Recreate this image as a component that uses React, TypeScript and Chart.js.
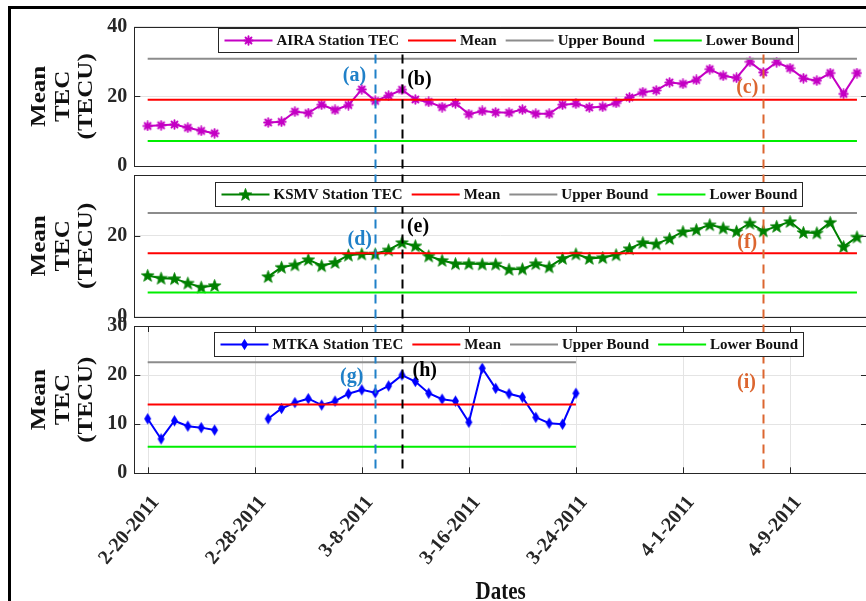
import React, { useEffect, useRef } from 'react';
import { Chart, registerables } from 'chart.js';

Chart.register(...registerables);

// ---------------- data ----------------
// x values are days since 2-20-2011
const dateTickDays = [0, 8, 16, 24, 32, 40, 48];
const dateTickLabels = ['2-20-2011', '2-28-2011', '3-8-2011', '3-16-2011', '3-24-2011', '4-1-2011', '4-9-2011'];

const stationNames = ['AIRA Station TEC', 'KSMV Station TEC', 'MTKA Station TEC'];

// daily mean TEC (TECU), index = day since 2-20-2011, null = no data
const airaTEC = [11.5, 11.7, 11.9, 11.0, 10.1, 9.4, null, null, null,
  12.5, 12.7, 15.6, 15.2, 17.6, 16.1, 17.5, 22.0, 18.7, 20.2, 21.9, 19.1, 18.4, 16.9, 18.0, 14.9, 15.8, 15.4, 15.3,
  16.2, 15.0, 15.0, 17.6, 17.9, 16.8, 17.0, 18.1, 19.7, 21.2, 21.7, 24.0, 23.6, 24.7, 27.8, 25.9, 25.3, 29.9,
  26.9, 29.8, 28.1, 25.2, 24.5, 26.7, 20.7, 26.7];
const ksmvTEC = [10.2, 9.5, 9.4, 8.3, 7.3, 7.7, null, null, null,
  9.9, 12.2, 12.8, 14.1, 12.6, 13.4, 15.2, 15.5, 15.5, 16.5, 18.3, 17.5, 15.0, 13.9, 13.1, 13.1, 13.0, 13.0, 11.7,
  11.8, 13.1, 12.3, 14.4, 15.5, 14.4, 14.6, 15.3, 16.8, 18.3, 18.0, 19.3, 21.0, 21.5, 22.7, 21.9, 21.1, 23.1,
  21.2, 22.3, 23.5, 20.8, 20.7, 23.3, 17.3, 19.7];
const mtkaTEC = [11.1, 7.0, 10.7, 9.6, 9.3, 8.8, null, null, null,
  11.1, 13.2, 14.4, 15.2, 13.9, 14.7, 16.2, 17.0, 16.4, 17.8, 20.0, 18.7, 16.3, 15.1, 14.7, 10.4, 21.4, 17.3,
  16.2, 15.5, 11.4, 10.2, 10.0, 16.3];

const meanTEC = [19.0, 15.7, 14.0];
const upperBound = [30.8, 25.6, 22.6];
const lowerBound = [7.2, 6.0, 5.4];

const yTicksAIRA = [0, 20, 40];
const yTicksKSMV = [0, 20];
const yTicksMTKA = [0, 10, 20, 30];
const yMax = [40, 35, 30];

// event days: 3-9-2011, 3-11-2011, 4-7-2011
const eventDays = [17, 19, 46];
const eventLetters = [
  ['(a)', '(b)', '(c)'],
  ['(d)', '(e)', '(f)'],
  ['(g)', '(h)', '(i)'],
];

const yTitleLines = ['Mean', 'TEC', '(TECU)'];
const xTitle = 'Dates';

// ---------------- styles ----------------
const FONT = '"Liberation Serif", "Times New Roman", serif';
const INK = '#262626';
const stationColors = ['#c400c4', '#008000', '#0000ff'];
const eventColors = ['#1f80c8', '#000000', '#dc6630'];
const MEAN_COLOR = '#ff0000';
const UPPER_COLOR = '#8c8c8c';
const LOWER_COLOR = '#00ee00';
const GRID = '#e4e4e4';

const CANVAS_W = 880;
const CANVAS_H = 601;
const AXIS_LEFT = 134.3;
const PLOT_RIGHT = 867;
const PLOT_TOP = 26.7;
const PLOT_BOTTOM = 473.3;
const panelHeights = [139.3, 141.7, 147.3];
const gapHeights = [9, 9.3];
const legendTopOffsets = [1.6, 6.5, 5.7];
const legendCenterOffset = 7.5;
// label anchors in (day, value) of each panel
const eventLabelDays = [
  [15.45, 20.3, 44.8],
  [15.85, 20.2, 44.8],
  [15.25, 20.7, 44.75],
];
const eventLabelValues = [
  [25.9, 24.8, 22.5],
  [19.0, 22.2, 18.3],
  [19.6, 20.8, 18.4],
];

function makeAsterisk(color: string) {
  const c = document.createElement('canvas');
  c.width = 11; c.height = 11;
  const g = c.getContext('2d')!;
  g.strokeStyle = color; g.lineWidth = 1.9; g.lineCap = 'round';
  const r = 4.2, cx = 5.5, cy = 5.5;
  g.beginPath();
  for (let k = 0; k < 4; k++) {
    const a = (k * Math.PI) / 4 + Math.PI / 2;
    g.moveTo(cx - r * Math.cos(a), cy - r * Math.sin(a));
    g.lineTo(cx + r * Math.cos(a), cy + r * Math.sin(a));
  }
  g.stroke();
  return c;
}

function makePentagram(color: string) {
  const c = document.createElement('canvas');
  c.width = 15; c.height = 15;
  const g = c.getContext('2d')!;
  const R = 6.6, r = 2.7, cx = 7.5, cy = 8;
  g.beginPath();
  for (let k = 0; k < 10; k++) {
    const a = -Math.PI / 2 + (k * Math.PI) / 5;
    const rr = k % 2 ? r : R;
    const x = cx + rr * Math.cos(a), y = cy + rr * Math.sin(a);
    if (k) g.lineTo(x, y); else g.moveTo(x, y);
  }
  g.closePath();
  g.fillStyle = color; g.fill();
  g.strokeStyle = color; g.lineWidth = 0.8; g.stroke();
  return c;
}

function makeDiamond(color: string) {
  const c = document.createElement('canvas');
  c.width = 9; c.height = 13;
  const g = c.getContext('2d')!;
  g.beginPath();
  g.moveTo(4.5, 0.8); g.lineTo(8, 6.5); g.lineTo(4.5, 12.2); g.lineTo(1, 6.5);
  g.closePath();
  g.fillStyle = color; g.fill();
  return c;
}

const panelIds = ['yA', 'yK', 'yM'];

export default function App() {
  const ref = useRef<HTMLCanvasElement>(null);

  useEffect(() => {
    const canvas = ref.current;
    if (!canvas) return;
    const series = [airaTEC, ksmvTEC, mtkaTEC];
    const yTicks = [yTicksAIRA, yTicksKSMV, yTicksMTKA];
    const markers = [makeAsterisk(stationColors[0]), makePentagram(stationColors[1]), makeDiamond(stationColors[2])];

    const datasets: any[] = [];
    series.forEach((vals, p) => {
      const last = vals.length - 1;
      const flat = (v: number, color: string, label: string) => ({
        label, yAxisID: panelIds[p], data: [{ x: 0, y: v }, { x: last, y: v }],
        borderColor: color, borderWidth: 2, pointRadius: 0, fill: false,
      });
      datasets.push(flat(upperBound[p], UPPER_COLOR, 'Upper Bound'));
      datasets.push(flat(lowerBound[p], LOWER_COLOR, 'Lower Bound'));
      datasets.push(flat(meanTEC[p], MEAN_COLOR, 'Mean'));
    });
    series.forEach((vals, p) => {
      datasets.push({
        label: stationNames[p], yAxisID: panelIds[p],
        data: vals.map((y, i) => ({ x: i, y })),
        borderColor: stationColors[p], backgroundColor: stationColors[p],
        borderWidth: 2, pointStyle: markers[p], pointRadius: 5,
        spanGaps: false, fill: false, tension: 0,
      });
    });

    const tickFont = { family: FONT, size: 20, weight: 'bold' as const };
    const yScale = (p: number, weight: number) => ({
      type: 'linear', position: 'left', stack: 'panels', stackWeight: panelHeights[p], weight,
      min: 0, max: yMax[p],
      afterBuildTicks: (s: any) => { s.ticks = yTicks[p].map((v) => ({ value: v })); },
      afterFit: (s: any) => { s.width = AXIS_LEFT; },
      ticks: { font: tickFont, color: INK, padding: 7 },
      grid: { color: GRID, lineWidth: 1, drawTicks: false },
      border: { display: false },
    });
    const gapScale = (g: number, weight: number) => ({
      type: 'linear', position: 'left', stack: 'panels', stackWeight: gapHeights[g], weight,
      display: false,
      afterFit: (s: any) => { s.width = AXIS_LEFT; },
    });

    const decor = {
      id: 'decor',
      beforeDraw(chart: any) {
        const ctx = chart.ctx;
        ctx.save();
        ctx.fillStyle = '#ffffff';
        ctx.fillRect(0, 0, chart.width, chart.height);
        ctx.restore();
      },
      beforeDatasetsDraw(chart: any) {
        const ctx = chart.ctx;
        const x = chart.scales.x, y = chart.scales.yM;
        ctx.save();
        ctx.strokeStyle = GRID; ctx.lineWidth = 1;
        ctx.beginPath();
        dateTickDays.forEach((d) => {
          const px = Math.round(x.getPixelForValue(d)) + 0.5;
          ctx.moveTo(px, y.top); ctx.lineTo(px, y.bottom);
        });
        ctx.stroke();
        ctx.restore();
      },
      afterDatasetsDraw(chart: any) {
        const ctx = chart.ctx;
        const xs = chart.scales.x;
        const { left, right } = chart.chartArea;
        ctx.save();
        // panel frames and inward ticks
        panelIds.forEach((id, p) => {
          const ys = chart.scales[id];
          ctx.strokeStyle = INK; ctx.lineWidth = 1; ctx.setLineDash([]);
          ctx.strokeRect(Math.round(left) + 0.5, Math.round(ys.top) + 0.5, Math.round(right - left), Math.round(ys.bottom - ys.top));
          ctx.beginPath();
          yTicks[p].forEach((v) => {
            if (v === 0 || v === yMax[p]) return;
            const py = Math.round(ys.getPixelForValue(v)) + 0.5;
            ctx.moveTo(left, py); ctx.lineTo(left + 6, py);
            ctx.moveTo(right, py); ctx.lineTo(right - 6, py);
          });
          if (id === 'yM') {
            dateTickDays.forEach((d) => {
              const px = Math.round(xs.getPixelForValue(d)) + 0.5;
              ctx.moveTo(px, ys.bottom); ctx.lineTo(px, ys.bottom - 6);
              ctx.moveTo(px, ys.top); ctx.lineTo(px, ys.top + 6);
            });
          }
          ctx.stroke();
        });
        // event lines
        const topY = chart.scales.yA.getPixelForValue(32);
        const botY = chart.scales.yM.bottom;
        eventDays.forEach((d, k) => {
          const px = Math.round(xs.getPixelForValue(d)) + 0.5;
          ctx.strokeStyle = eventColors[k]; ctx.lineWidth = 2; ctx.setLineDash([9, 6]);
          ctx.beginPath(); ctx.moveTo(px, topY); ctx.lineTo(px, botY); ctx.stroke();
        });
        ctx.setLineDash([]);
        // event labels
        ctx.font = `bold 20px ${FONT}`;
        ctx.textAlign = 'center'; ctx.textBaseline = 'middle';
        panelIds.forEach((id, p) => {
          const ys = chart.scales[id];
          eventLetters[p].forEach((t, k) => {
            ctx.fillStyle = eventColors[k];
            ctx.fillText(t, xs.getPixelForValue(eventLabelDays[p][k]), ys.getPixelForValue(eventLabelValues[p][k]));
          });
        });
        // legends
        panelIds.forEach((id, p) => {
          const ys = chart.scales[id];
          ctx.font = `bold 15px ${FONT}`;
          const items = [
            { text: stationNames[p], color: stationColors[p], marker: markers[p] as any },
            { text: 'Mean', color: MEAN_COLOR, marker: null },
            { text: 'Upper Bound', color: UPPER_COLOR, marker: null },
            { text: 'Lower Bound', color: LOWER_COLOR, marker: null },
          ];
          const sample = 48, gapST = 4, gapItem = 9, padL = 6, padR = 5, h = 24;
          let total = padL + padR;
          items.forEach((it, i) => {
            total += sample + gapST + ctx.measureText(it.text).width + (i < items.length - 1 ? gapItem : 0);
          });
          const cx = (left + right) / 2 + legendCenterOffset;
          const bx = Math.round(cx - total / 2) + 0.5;
          const by = Math.round(ys.top + legendTopOffsets[p]) + 0.5;
          ctx.fillStyle = '#ffffff';
          ctx.fillRect(bx, by, total, h);
          ctx.strokeStyle = INK; ctx.lineWidth = 1;
          ctx.strokeRect(bx, by, Math.round(total), h);
          let x = bx + padL;
          const my = by + h / 2;
          items.forEach((it) => {
            ctx.strokeStyle = it.color; ctx.lineWidth = 2;
            ctx.beginPath(); ctx.moveTo(x, my); ctx.lineTo(x + sample, my); ctx.stroke();
            if (it.marker) {
              ctx.drawImage(it.marker, x + sample / 2 - it.marker.width / 2, my - it.marker.height / 2);
            }
            x += sample + gapST;
            ctx.fillStyle = '#111111';
            ctx.textAlign = 'left'; ctx.textBaseline = 'middle';
            ctx.fillText(it.text, x, my + 1);
            x += ctx.measureText(it.text).width + gapItem;
          });
        });
        // y titles
        ctx.fillStyle = '#111111';
        ctx.font = `bold 20px ${FONT}`;
        ctx.textAlign = 'center'; ctx.textBaseline = 'alphabetic';
        const baselines = [45, 68.5, 92];
        panelIds.forEach((id) => {
          const ys = chart.scales[id];
          const cy = (ys.top + ys.bottom) / 2;
          yTitleLines.forEach((line, i) => {
            ctx.save();
            ctx.translate(baselines[i], cy);
            ctx.rotate(-Math.PI / 2);
            ctx.scale(1.25, 1);
            ctx.fillText(line, 0, 0);
            ctx.restore();
          });
        });
        // x title
        ctx.save();
        ctx.font = `bold 21px ${FONT}`;
        ctx.textAlign = 'center'; ctx.textBaseline = 'alphabetic';
        ctx.translate((left + right) / 2, 599);
        ctx.scale(1, 1.15);
        ctx.fillText(xTitle, 0, 0);
        ctx.restore();
        // figure border
        ctx.strokeStyle = '#000000'; ctx.lineWidth = 3;
        ctx.beginPath();
        ctx.moveTo(9.5, chart.height); ctx.lineTo(9.5, 7.5); ctx.lineTo(chart.width, 7.5);
        ctx.stroke();
        ctx.restore();
      },
    };

    const chart = new Chart(canvas, {
      type: 'line',
      data: { datasets },
      options: {
        responsive: false,
        animation: false,
        devicePixelRatio: 1,
        events: [],
        layout: { padding: { top: PLOT_TOP, right: CANVAS_W - PLOT_RIGHT, bottom: 0, left: 0 } },
        plugins: { legend: { display: false }, tooltip: { enabled: false }, title: { display: false } },
        scales: {
          x: {
            type: 'linear', position: 'bottom', min: -1, max: 53.75,
            afterBuildTicks: (s: any) => { s.ticks = dateTickDays.map((v) => ({ value: v })); },
            afterFit: (s: any) => { s.height = CANVAS_H - PLOT_BOTTOM; },
            ticks: {
              autoSkip: false, minRotation: 50, maxRotation: 50, font: tickFont, color: INK,
              padding: 18, labelOffset: 8,
              callback: (v: any) => {
                const i = dateTickDays.indexOf(Number(v));
                return i >= 0 ? dateTickLabels[i] : '';
              },
            },
            grid: { display: false, drawTicks: false },
            border: { display: false },
          },
          yA: yScale(0, 5),
          g1: gapScale(0, 4),
          yK: yScale(1, 3),
          g2: gapScale(1, 2),
          yM: yScale(2, 1),
        } as any,
      },
      plugins: [decor],
    } as any);

    return () => chart.destroy();
  }, []);

  return (
    <div style={{ position: 'fixed', left: 0, top: 0, width: 866, height: 601, overflow: 'hidden', background: '#fff' }}>
      <canvas ref={ref} width={CANVAS_W} height={CANVAS_H} style={{ display: 'block', width: CANVAS_W, height: CANVAS_H }} />
    </div>
  );
}
